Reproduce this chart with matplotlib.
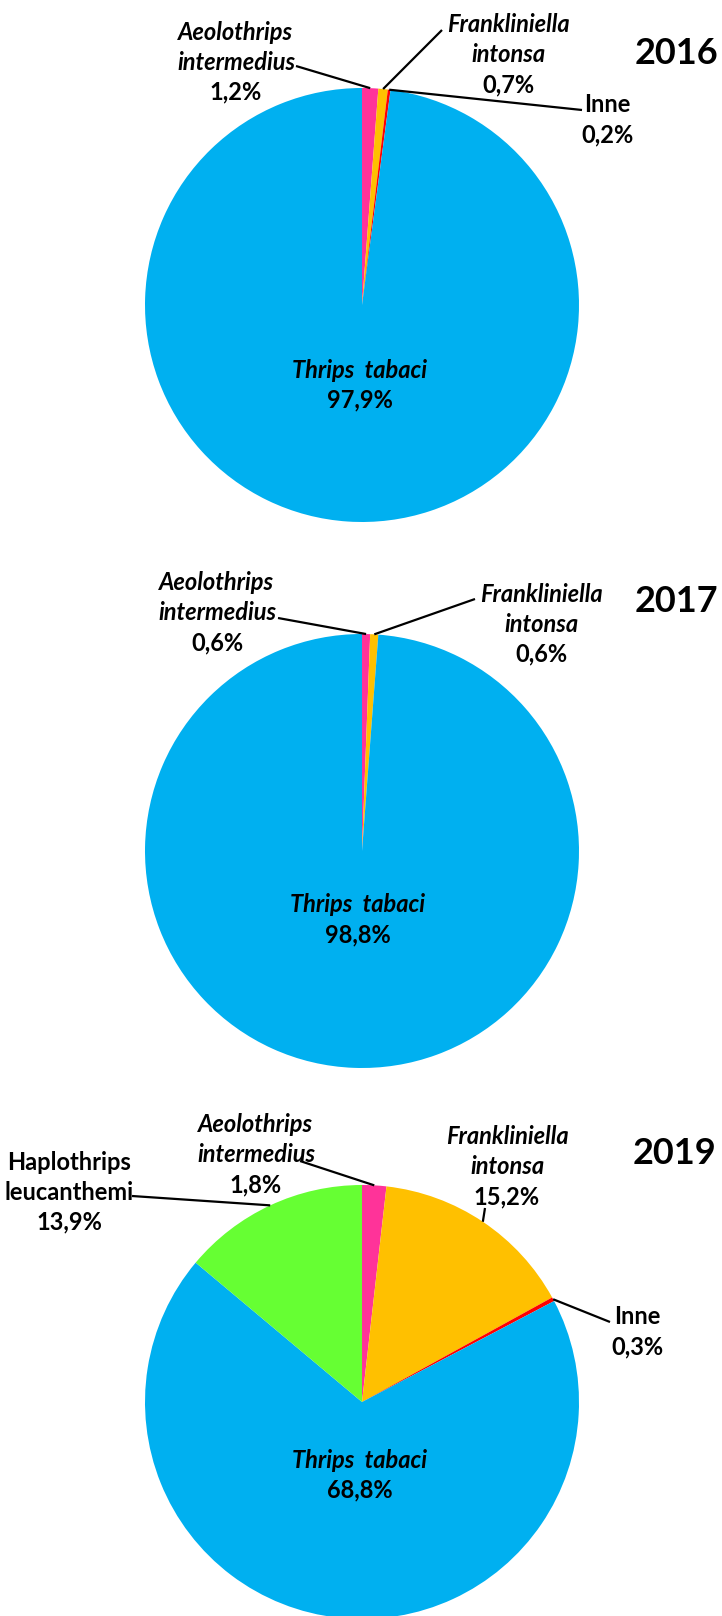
import matplotlib.pyplot as plt
import numpy as np

plt.rcParams['font.family'] = ['Lato', 'DejaVu Sans']

species = ['Aeolothrips intermedius', 'Frankliniella intonsa', 'Inne',
           'Thrips tabaci', 'Haplothrips leucanthemi']
colors = ['#FF3399', '#FFC000', '#FF0000', '#00B0F0', '#66FF33']
upright = ['Inne', 'Haplothrips leucanthemi']

years = ['2016', '2017', '2019']
share_2016 = [1.2, 0.7, 0.2, 97.9, 0.0]
share_2017 = [0.6, 0.6, 0.0, 98.8, 0.0]
share_2019 = [1.8, 15.2, 0.3, 68.8, 13.9]
shares = [share_2016, share_2017, share_2019]

W, H = 722, 1616
R = 217
LINE = 30

# panel layout, pixels measured from the top-left corner
centers = [(362, 305), (362, 851), (362, 1402)]
title_pos = [(676, 53), (676, 602), (675, 1153)]

# species -> (x, y of first line, start of leader line or None)
label_pos = [
    {'Aeolothrips intermedius': (236, 32, (296, 66)),
     'Frankliniella intonsa': (508, 25, (442, 30)),
     'Inne': (607, 105, (582, 110)),
     'Thrips tabaci': (360, 370, None)},
    {'Aeolothrips intermedius': (217, 583, (278, 618)),
     'Frankliniella intonsa': (541, 594, (475, 599)),
     'Thrips tabaci': (358, 905, None)},
    {'Aeolothrips intermedius': (256, 1125, (300, 1161)),
     'Frankliniella intonsa': (507, 1137, (485, 1208)),
     'Inne': (637, 1317, (610, 1322)),
     'Thrips tabaci': (360, 1460, None),
     'Haplothrips leucanthemi': (69, 1162, (132, 1196))},
]


def fmt(v):
    return ('%.1f' % v).replace('.', ',') + '%'


fig = plt.figure(figsize=(W / 100, H / 100), dpi=100)
ax = fig.add_axes([0, 0, 1, 1])

for k in range(len(years)):
    vals = shares[k]
    keep = [i for i in range(len(species)) if vals[i] > 0]
    names = [species[i] for i in keep]
    cx, cy = centers[k]
    wedges, _ = ax.pie([vals[i] for i in keep], colors=[colors[i] for i in keep],
                       startangle=90, counterclock=False, center=(cx, H - cy),
                       radius=R, wedgeprops=dict(linewidth=0))

    for name, w in zip(names, wedges):
        x, y0, leader = label_pos[k][name]
        style = 'normal' if name in upright else 'italic'
        if name == 'Thrips tabaci':
            parts = ['Thrips  tabaci']
        elif name == 'Inne':
            parts = [name]
        else:
            parts = name.split(' ')
        for j, part in enumerate(parts):
            ax.text(x, H - (y0 + LINE * j), part, ha='center', va='center',
                    fontsize=17, fontweight='bold', fontstyle=style, color='black')
        ax.text(x, H - (y0 + LINE * len(parts)), fmt(vals[species.index(name)]),
                ha='center', va='center', fontsize=17, fontweight='bold', color='black')

        if leader is not None:
            mid = np.deg2rad((w.theta1 + w.theta2) / 2)
            ex = cx + R * np.cos(mid)
            ey = (H - cy) + R * np.sin(mid)
            ax.plot([leader[0], ex], [H - leader[1], ey], color='black', lw=1.6,
                    solid_capstyle='butt')

    tx, ty = title_pos[k]
    ax.text(tx, H - ty, years[k], ha='center', va='center', fontsize=26,
            fontweight='bold', color='black')

ax.set_xlim(0, W)
ax.set_ylim(0, H)
ax.set_aspect('equal')
ax.axis('off')

fig.savefig('out.png', dpi=100, facecolor='white')
